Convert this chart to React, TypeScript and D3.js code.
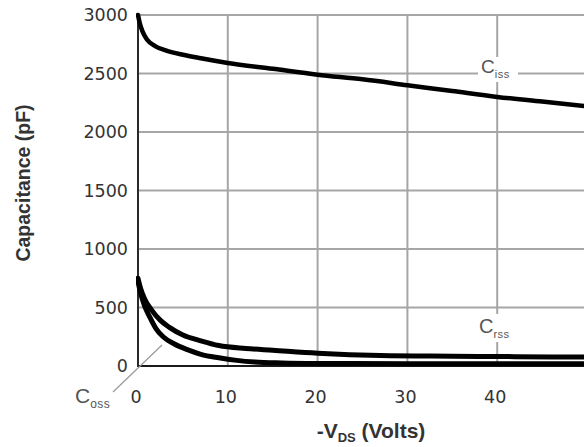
import React from "react";
import * as d3 from "d3";

// Drain-source voltage (V) sample points and capacitance readings (pF)
const vdsCiss = [0, 0.2, 0.5, 1, 2, 3, 5, 7, 10, 15, 20, 25, 30, 35, 40, 45, 50];
const ciss = [3000, 2930, 2860, 2790, 2730, 2700, 2660, 2630, 2590, 2540, 2490, 2450, 2400, 2350, 2300, 2260, 2220];

const vdsCrss = [0, 0.3, 0.7, 1.5, 2.5, 3.5, 5, 7, 9, 12, 15, 20, 27, 35, 42, 50];
const crss = [750, 660, 580, 480, 390, 330, 265, 215, 175, 150, 135, 110, 90, 84, 80, 76];

const vdsCoss = [0, 0.3, 0.7, 1.3, 2, 2.8, 4, 5.5, 7, 9, 11, 13, 16, 20, 30, 40, 50];
const coss = [720, 620, 520, 420, 320, 250, 190, 140, 100, 70, 48, 34, 26, 22, 20, 20, 20];

const xGrid = [0, 10, 20, 30, 40, 50];
const xTicks = [0, 10, 20, 30, 40];
const xTickLabels = ["0", "10", "20", "30", "40"];
const yTicks = [0, 500, 1000, 1500, 2000, 2500, 3000];
const yTickLabels = ["0", "500", "1000", "1500", "2000", "2500", "3000"];

const W = 584;
const H = 447;

export default function App() {
  const x = d3.scaleLinear().domain([0, 50]).range([138, 587]);
  const y = d3.scaleLinear().domain([0, 3000]).range([366, 15]);

  const line = (xs: number[], ys: number[]) =>
    d3
      .line<number>()
      .x((_, i) => x(xs[i]))
      .y((v) => y(v))
      .curve(d3.curveMonotoneX)(ys) as string;

  const tickFont = "'DejaVu Sans', sans-serif";
  const labelFont = "'Liberation Sans', Arial, sans-serif";

  return (
    <svg
      width={W}
      height={H}
      style={{ position: "absolute", left: 0, top: 0, background: "#fff" }}
    >
      <defs>
        <clipPath id="plot">
          <rect x={136} y={0} width={W - 136} height={370} />
        </clipPath>
      </defs>

      {/* grid */}
      {xGrid.map((t) => (
        <line key={"gx" + t} x1={x(t)} x2={x(t)} y1={y(3000)} y2={y(0)} stroke="#a6a6a6" strokeWidth={2} />
      ))}
      {yTicks.map((t) => (
        <line key={"gy" + t} x1={x(0)} x2={x(50)} y1={y(t)} y2={y(t)} stroke="#a6a6a6" strokeWidth={2} />
      ))}

      {/* axes */}
      <line x1={x(0)} x2={x(0)} y1={y(3000)} y2={y(0) + 1} stroke="#2a2a2a" strokeWidth={2} />
      <line x1={x(0)} x2={x(50)} y1={y(0)} y2={y(0)} stroke="#1a1a1a" strokeWidth={2} />

      {/* leader for Coss label */}
      <line x1={113} y1={392} x2={162} y2={345} stroke="#9a9a9a" strokeWidth={1.2} />

      {/* curve labels on white patches */}
      <rect x={478} y={57} width={40} height={25} fill="#fff" />
      <text x={481} y={73} fontFamily={labelFont} fontSize={19} fill="#555">
        C<tspan fontSize={11} dy={5} letterSpacing={0.5}>iss</tspan>
      </text>
      <rect x={476} y={314} width={42} height={28} fill="#fff" />
      <text x={479} y={333} fontFamily={labelFont} fontSize={20} fill="#555">
        C<tspan fontSize={11} dy={5} letterSpacing={0.5}>rss</tspan>
      </text>

      {/* curves */}
      <g clipPath="url(#plot)" fill="none" stroke="#000" strokeLinejoin="round" strokeLinecap="round">
        <path d={line(vdsCiss, ciss)} strokeWidth={4.5} />
        <path d={line(vdsCrss, crss)} strokeWidth={5} />
        <path d={line(vdsCoss, coss)} strokeWidth={5} />
      </g>

      {/* y tick labels */}
      {yTicks.map((t, i) => (
        <text
          key={"yl" + t}
          x={128}
          y={y(t)}
          dy="0.36em"
          textAnchor="end"
          fontFamily={tickFont}
          fontSize={17.5}
          fill="#333"
        >
          {yTickLabels[i]}
        </text>
      ))}

      {/* x tick labels */}
      {xTicks.map((t, i) => (
        <text
          key={"xl" + t}
          x={x(t) - 2}
          y={397}
          dy="0.36em"
          textAnchor="middle"
          fontFamily={tickFont}
          fontSize={17.5}
          fill="#333"
        >
          {xTickLabels[i]}
        </text>
      ))}

      {/* axis titles */}
      <text
        transform="translate(30,183) rotate(-90)"
        textAnchor="middle"
        fontFamily={labelFont}
        fontWeight="bold"
        fontSize={19.5}
        fill="#333"
      >
        Capacitance (pF)
      </text>
      <text x={371} y={438} textAnchor="middle" fontFamily={labelFont} fontWeight="bold" fontSize={21} fill="#333">
        -V
        <tspan fontSize={13} dy={4}>DS</tspan>
        <tspan dy={-4}> (Volts)</tspan>
      </text>

      <text x={75} y={403} fontFamily={labelFont} fontSize={21} fill="#555">
        C<tspan fontSize={12} dy={5} letterSpacing={0.5}>oss</tspan>
      </text>
    </svg>
  );
}
